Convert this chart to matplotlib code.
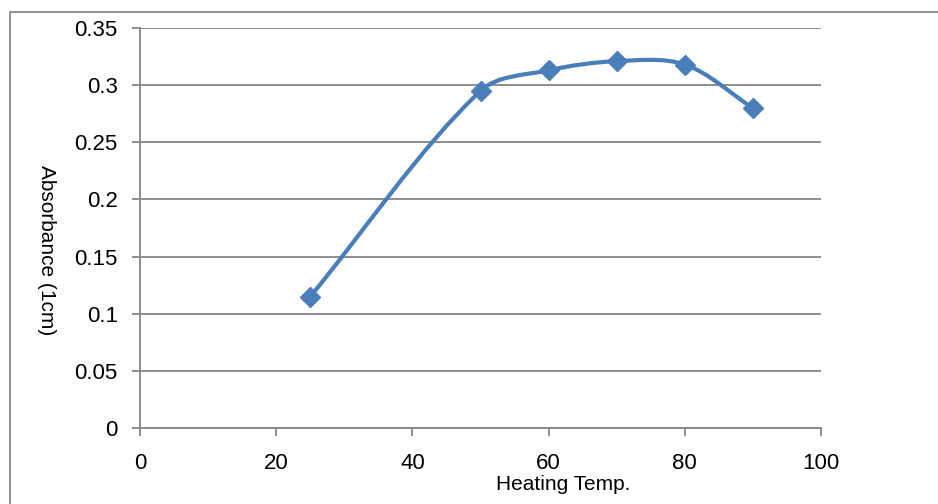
import matplotlib
matplotlib.use("Agg")
import numpy as np
from matplotlib import pyplot as plt
from matplotlib.path import Path
from matplotlib.patches import PathPatch, Rectangle

# data
heating_temp = [25, 50, 60, 70, 80, 90]
absorbance = [0.115, 0.295, 0.313, 0.321, 0.318, 0.28]
x_ticks = [0, 20, 40, 60, 80, 100]
y_ticks = [0, 0.05, 0.1, 0.15, 0.2, 0.25, 0.3, 0.35]
y_tick_labels = ["0", "0.05", "0.1", "0.15", "0.2", "0.25", "0.3", "0.35"]

line_color = "#4A7EBB"
grid_color = "#868686"


def smooth_path(ax, xs, ys):
    # excel-like smoothed line, control points built in screen space
    pts = ax.transData.transform(np.column_stack([xs, ys]))
    n = len(pts)
    verts = [pts[0]]
    codes = [Path.MOVETO]
    t = 1 / 3
    for i in range(n - 1):
        p0 = pts[max(i - 1, 0)]
        p1 = pts[i]
        p2 = pts[i + 1]
        p3 = pts[min(i + 2, n - 1)]
        d01 = np.hypot(*(p1 - p0))
        d12 = np.hypot(*(p2 - p1))
        d23 = np.hypot(*(p3 - p2))
        c1 = p1 + (p2 - p0) * t * d12 / (d01 + d12)
        c2 = p2 - (p3 - p1) * t * d12 / (d12 + d23)
        verts += [c1, c2, p2]
        codes += [Path.CURVE4] * 3
    verts = ax.transData.inverted().transform(np.array(verts))
    return Path(verts, codes)


fig = plt.figure(figsize=(9.38, 5.04), dpi=100)
fig.patches.append(Rectangle((10 / 938, -0.1), 1.0, 1 - 12 / 504 + 0.1,
                             transform=fig.transFigure, fill=False,
                             edgecolor="#7f7f7f", linewidth=1.2))
ax = fig.add_axes([140 / 938, 76 / 504, 681 / 938, 400 / 504])
ax.set_xlim(0, 100)
ax.set_ylim(0, 0.35)

ax.add_patch(PathPatch(smooth_path(ax, heating_temp, absorbance), facecolor="none",
                       edgecolor=line_color, linewidth=3.0, zorder=3))
ax.plot(heating_temp, absorbance, linestyle="none", marker="D",
        markersize=10, color=line_color, zorder=4)

ax.set_xticks(x_ticks)
ax.set_xticklabels([str(t) for t in x_ticks], fontsize=16, family="Liberation Sans")
ax.set_yticks(y_ticks)
ax.set_yticklabels(y_tick_labels, fontsize=16, family="Liberation Sans")
ax.yaxis.grid(True, color=grid_color, linewidth=1.3)
ax.set_axisbelow(True)

for side in ["top", "right"]:
    ax.spines[side].set_visible(False)
for side in ["left", "bottom"]:
    ax.spines[side].set_color(grid_color)
    ax.spines[side].set_linewidth(1.3)
ax.tick_params(axis="both", colors=grid_color, length=6, width=1.3, labelcolor="black")
ax.tick_params(axis="y", pad=10)
ax.tick_params(axis="x", pad=12)

fig.text(563 / 938, 1 - 485 / 504, "Heating Temp.", ha="center", va="center",
         fontsize=15, family="Liberation Sans")
fig.text(46 / 938, 1 - 250 / 504, "Absorbance (1cm)", ha="center", va="center",
         rotation=270, fontsize=15, family="Liberation Sans")

fig.savefig("out.png", dpi=100)
